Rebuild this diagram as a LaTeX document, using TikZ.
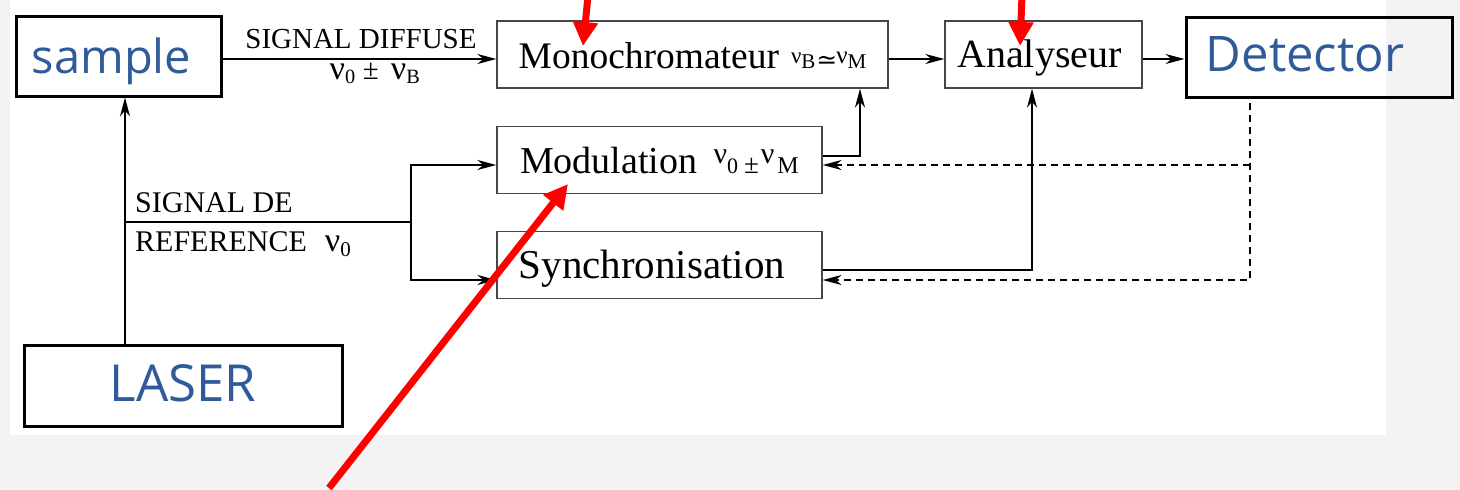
\documentclass[tikz,border=0pt]{standalone}
\usepackage{fontspec}
\setmainfont{Liberation Serif}
\newfontfamily\handfont{Open Sans}
\newfontfamily\symfont{DejaVu Serif}
\usetikzlibrary{arrows.meta}
\definecolor{handblue}{RGB}{47,91,153}
\definecolor{bggray}{RGB}{243,243,243}
\definecolor{boxgray}{RGB}{70,70,70}
\definecolor{annred}{RGB}{255,0,0}
\tikzset{
  thinbox/.style={draw=boxgray, line width=1.3pt, inner sep=0pt, text depth=0pt, font=\fontsize{37.5}{40}\selectfont},
  thickbox/.style={draw=black, line width=3pt, inner sep=0pt, text depth=0pt, text=handblue},
  conn/.style={line width=1.5pt, -{Stealth[length=19pt,width=10pt,inset=6pt]}},
  dconn/.style={conn, dash pattern=on 7pt off 5pt},
  plainline/.style={line width=1.5pt},
  redarr/.style={draw=annred, line width=7pt, -{Triangle[length=24pt,width=24pt]}},
  lbl/.style={inner sep=0pt, anchor=base, font=\fontsize{29}{30}\selectfont},
}
\newcommand{\bignu}[1]{{\fontsize{#1}{#1}\selectfont ν}}
\begin{document}
\begin{tikzpicture}[x=1pt,y=-1pt]
\useasboundingbox (0,0) rectangle (1460,490);
\fill[bggray] (0,0) rectangle (1460,490);
\fill[white] (10,0) rectangle (1386,435);

% boxes
\node[thickbox, minimum width=205pt, minimum height=80pt, text height=34pt,
      font=\handfont\fontsize{47}{47}\selectfont] (sample) at (118.5,56) {sample\hspace*{14pt}};
\node[thinbox, minimum width=391pt, minimum height=67pt, text height=27pt] (mono) at (692.5,54.5)
  {Monochromateur\hspace{12pt}{\fontsize{21}{21}\selectfont\raisebox{5pt}{\bignu{23}}B\hspace{1pt}{\symfont\fontsize{25}{25}\selectfont ≃}\hspace{-1pt}\raisebox{5pt}{\bignu{25}}M}};
\node[thinbox, minimum width=197pt, minimum height=67pt, text height=25pt,
      font=\fontsize{40}{40}\selectfont] (ana) at (1043.5,54.5) {Analyseur\hspace*{8pt}};
\node[thickbox, minimum width=266pt, minimum height=80pt, text height=28pt,
      font=\handfont\fontsize{49}{49}\selectfont] (det) at (1319,57) {Detector\hspace*{28pt}};
\node[thinbox, minimum width=325pt, minimum height=67pt, text height=27pt, font=\fontsize{38}{40}\selectfont] (mod) at (659.5,160)
  {Modulation\hspace{16pt}{\fontsize{22}{22}\selectfont\raisebox{10pt}{\bignu{30}}0\hspace{6pt}{\fontsize{27}{27}\selectfont ±}\hspace{2pt}\raisebox{10pt}{\bignu{30}}\hspace{3pt}{\fontsize{24}{24}\selectfont M}}};
\node[thinbox, minimum width=325pt, minimum height=67pt, text height=26pt, font=\fontsize{41}{42}\selectfont] (sync) at (659.5,265)
  {Synchronisation\hspace*{15pt}};
\node[thickbox, minimum width=318pt, minimum height=81pt, text height=31pt,
      font=\handfont\fontsize{51}{51}\selectfont] (laser) at (183,385.5) {LASER};

% labels
\node[lbl] (sdiff) at (361,48) {SIGNAL DIFFUSE};
\node[lbl] (nulab) at (375,79) {\bignu{34}\textsubscript{0} ± \,\bignu{34}\textsubscript{B}};
\node[lbl, anchor=base west, font=\fontsize{30}{30}\selectfont] (sde) at (135,212) {SIGNAL DE};
\node[lbl, anchor=base west, font=\fontsize{30}{30}\selectfont] (sref) at (135,251) {REFERENCE\hspace{18pt}\bignu{34}\textsubscript{0}};

% coordinates
\coordinate (rowA) at (0,59);
\coordinate (lx) at (125,0);
\coordinate (bsplit) at (125,222);
\coordinate (bj) at (411,222);
\coordinate (rowMi) at (0,165);
\coordinate (rowSi) at (0,280);
\coordinate (mx) at (860,156);
\coordinate (sx) at (1032,270);
\coordinate (dtop) at (1250,103);
\coordinate (dx1) at (1250,165);
\coordinate (dx2) at (1250,280);

% connectors
\draw[conn] (sample.east |- rowA) -- (mono.west |- rowA);
\draw[conn] (mono.east |- rowA) -- (ana.west |- rowA);
\draw[conn] (ana.east |- rowA) -- (det.west |- rowA);
\draw[conn] (laser.north -| lx) -- (sample.south -| lx);
\draw[plainline] (bsplit) -- (bj);
\draw[conn] (bj) |- (mod.west |- rowMi);
\draw[conn] (bj) |- (sync.west |- rowSi);
\draw[conn] (mod.east |- mx) -| (mono.south -| mx);
\draw[conn] (sync.east |- sx) -| (ana.south -| sx);
\draw[dconn] (dtop) -- (dx2) -- (sync.east |- dx2);
\draw[dconn] (dx1) -- (mod.east |- dx1);

% red annotation arrows
\coordinate (ra1s) at (588,-4);
\coordinate (ra1e) at (583,46);
\coordinate (ra2s) at (1022,-4);
\coordinate (ra2e) at (1020,46);
\coordinate (ra3s) at (329,488);
\coordinate (ra3e) at (568,184);
\draw[redarr] (ra1s) -- (ra1e);
\draw[redarr] (ra2s) -- (ra2e);
\draw[redarr] (ra3s) -- (ra3e);
\end{tikzpicture}
\end{document}
